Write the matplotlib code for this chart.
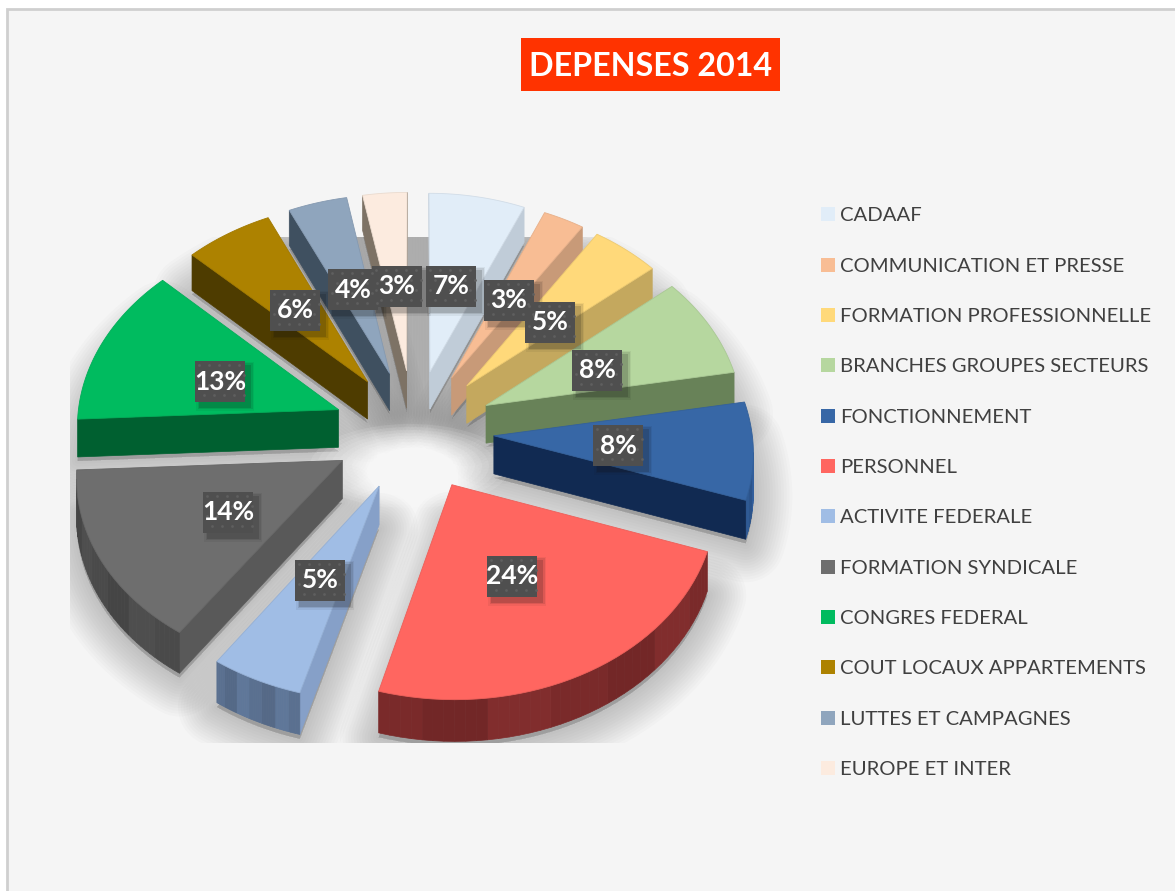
import numpy as np
import matplotlib
matplotlib.use("Agg")
import matplotlib.pyplot as plt
from matplotlib.patches import Polygon, Rectangle, Ellipse

TITLE = "DEPENSES 2014"
categories = ["CADAAF", "COMMUNICATION ET PRESSE", "FORMATION PROFESSIONNELLE",
              "BRANCHES GROUPES SECTEURS", "FONCTIONNEMENT", "PERSONNEL",
              "ACTIVITE FEDERALE", "FORMATION SYNDICALE", "CONGRES FEDERAL",
              "COUT LOCAUX APPARTEMENTS", "LUTTES ET CAMPAGNES", "EUROPE ET INTER"]
values = [7, 3, 5, 8, 8, 24, 5, 14, 13, 6, 4, 3]
top_colors = ["#e1edf8", "#f8bd94", "#ffd97a", "#b6d79f", "#3767a6", "#ff6660",
              "#a0bde5", "#6e6e6e", "#00bb5f", "#ad8200", "#8fa5bd", "#fcebdf"]
cut_colors = ["#c0ccd8", "#c89a78", "#c4a85e", "#688258", "#112a52", "#7a2a2a",
              "#86a0c8", "#595959", "#006030", "#4e3c00", "#3f5060", "#7d7265"]
rim_colors = ["#b8c4d0", "#c89a78", "#c4a85e", "#688258", "#2f5a94", "#7a2a2a",
              "#5a7090", "#4a4a4a", "#005a2c", "#4e3c00", "#3f5060", "#7d7265"]
label_centres = [(451, 286), (509, 300), (550, 322), (597, 370), (618, 445), (512, 576),
                 (320, 580), (228, 512), (220, 381), (295, 310), (353, 289), (397, 286)]
legend_rows = [214, 265, 315, 365, 416, 466, 516, 567, 617, 667, 718, 768]

CX, CY, FX_L, FX_R, FY_F, FY_B, PERSP, EXPLODE, DEPTH = 414, 431, 262, 258, 192, 199, 0.07, 0.31, 38
FONT = "Lato"

fig = plt.figure(figsize=(11.75, 8.91), dpi=100, facecolor="white")
ax = fig.add_axes([0, 0, 1, 1])
ax.set_xlim(0, 1175)
ax.set_ylim(891, 0)
ax.axis("off")
ax.add_patch(Rectangle((7, 9), 1200, 1000, fc="#f5f5f5", ec="#cfcfcf", lw=2, zorder=0))


def warp(theta):
    # the original's perspective view skews the angles slightly around the circle
    turn = np.interp(np.degrees(theta), [0, 54, 90, 200, 270, 360], [0, -3.5, -2.5, -2.5, 1, 0])
    return theta + np.radians(turn)


def proj(x, y, z=0.0):
    s = 1 / (1 + PERSP * y)
    fx = np.where(x < 0, FX_L, FX_R)
    fy = np.where(y < 0, FY_F, FY_B)
    return CX + fx * x * s, CY - fy * y * s + z * s


def outline(a0, a1, z=0.0, n=40):
    mid = (a0 + a1) / 2
    ex, ey = EXPLODE * np.sin(mid), EXPLODE * np.cos(mid)
    th = np.linspace(a0, a1, n)
    xs = np.r_[ex, ex + np.sin(th)]
    ys = np.r_[ey, ey + np.cos(th)]
    return np.column_stack(proj(xs, ys, z))


def shade(col, f):
    return tuple(min(1, c * f) for c in matplotlib.colors.to_rgb(col))


edges = warp(2 * np.pi * np.r_[0, np.cumsum(values)] / np.sum(values))
spans = list(zip(edges[:-1], edges[1:]))

# soft shadow below the pie
clip = Rectangle((70, 237), 800, 506, transform=ax.transData)
for a0, a1 in spans:
    pts = outline(a0, a1, DEPTH + 4)
    for lw in range(56, 0, -4):
        p = Polygon(pts, closed=True, fc="#555555", ec="#555555", lw=lw, alpha=0.022,
                    joinstyle="round", zorder=1)
        ax.add_patch(p)
        p.set_clip_path(clip)
for w in range(200, 60, -14):
    ax.add_patch(Ellipse((410, 466), w, w * .42, fc="white", ec="none", alpha=0.10, zorder=1.5))

order = np.argsort([-np.cos((a + b) / 2) for a, b in spans])
for rank, i in enumerate(order):
    a0, a1 = spans[i]
    top = outline(a0, a1)
    low = outline(a0, a1, DEPTH)
    z = 2 + rank * 0.1
    n = len(top)
    for k in range(n):
        j = (k + 1) % n
        if top[j, 0] >= top[k, 0]:
            continue
        quad = [top[k], top[j], low[j], low[k]]
        if k == 0 or k == n - 1:
            col = cut_colors[i]
        else:
            f = 1 + 0.07 * np.sin(k // 6 * 2.1)
            col = shade(rim_colors[i], f)
        ax.add_patch(Polygon(quad, closed=True, fc=col, ec=col, lw=0.5, zorder=z))
    ax.add_patch(Polygon(top, closed=True, fc=top_colors[i], ec=shade(top_colors[i], .93),
                         lw=0.6, zorder=z + 0.05))

# data labels
BW, BH = 50, 41
for val, (x, y) in zip(values, label_centres):
    for d, al in ((4, .06), (2.5, .10), (1, .16)):
        ax.add_patch(Rectangle((x - BW / 2 + 5 - d, y - BH / 2 + 5 - d), BW + 2 * d, BH + 2 * d,
                               fc="#111111", ec="none", alpha=al, zorder=8))
    ax.add_patch(Rectangle((x - BW / 2, y - BH / 2), BW, BH, fc="#4f4f4f", ec="none", zorder=9))
    gx = np.arange(x - BW / 2 + 4, x + BW / 2, 10.0)
    gy = np.arange(y - BH / 2 + 4, y + BH / 2, 10.0)
    X, Y = np.meshgrid(gx, gy)
    X[1::2] += 5
    ax.scatter(X.ravel(), Y.ravel(), s=4, marker="o", c="#5f5f5f", lw=0, zorder=9.1)
    ax.text(x, y + 0.5, f"{val}%", color="white", fontsize=19, fontweight="bold", family=FONT,
            ha="center", va="center", zorder=10)

# title
ax.add_patch(Rectangle((521, 38), 259, 53, fc="#ff3300", ec="none", zorder=5))
ax.text(650.5, 67, TITLE, color="white", fontsize=23.2, fontweight="bold", family=FONT,
        ha="center", va="center", zorder=6)

# legend
for name, col, y in zip(categories, top_colors, legend_rows):
    ax.add_patch(Rectangle((821, y - 7), 14, 14, fc=col, ec="none", zorder=5))
    ax.text(840, y + 1.5, name, color="#404040", fontsize=14.6, family=FONT, ha="left", va="center", zorder=6)

fig.savefig("out.png", dpi=100, facecolor="white")
